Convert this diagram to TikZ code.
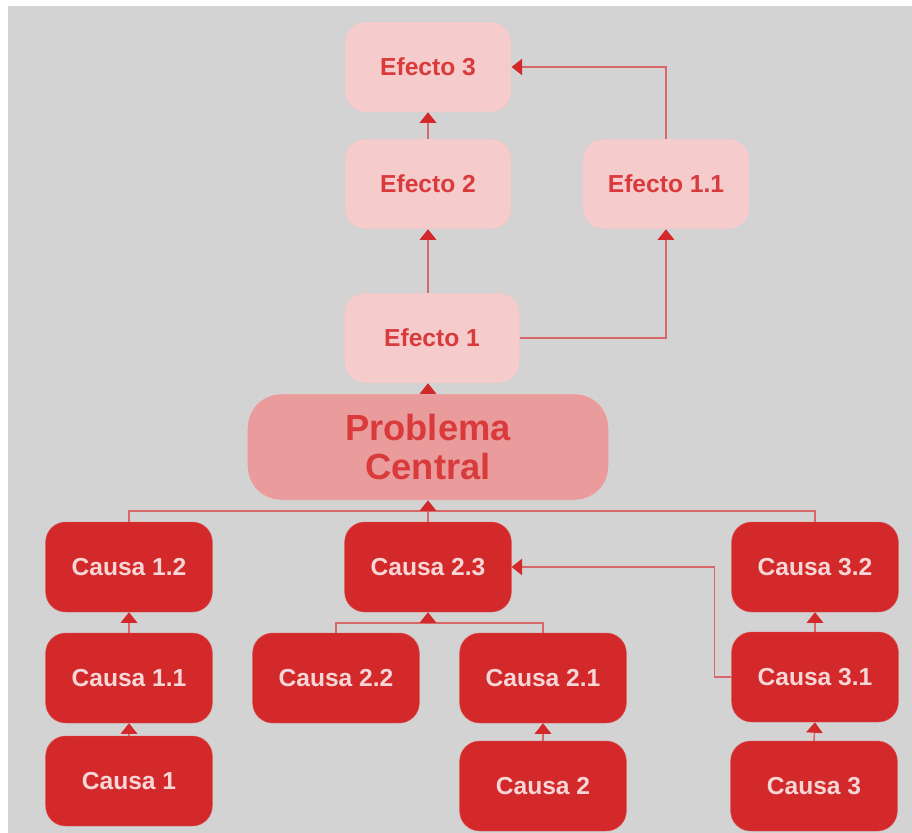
\documentclass[tikz,border=0pt]{standalone}
\usepackage{fontspec}
\setmainfont{Liberation Sans}
\usetikzlibrary{arrows.meta}
\definecolor{fondo}{HTML}{D3D3D3}
\definecolor{rosa}{HTML}{F5CBCB}
\definecolor{rosafuerte}{HTML}{EA9B9B}
\definecolor{rojo}{HTML}{D3292A}
\definecolor{rojotexto}{HTML}{D93A3C}
\definecolor{linea}{HTML}{D8676A}
\definecolor{letra}{HTML}{F6D6D6}
\begin{document}
\begin{tikzpicture}[x=0.03cm,y=-0.03cm,
	efecto/.style={rectangle,rounded corners=0.6cm,fill=rosa,draw=gray!35,line width=0.4pt,text=rojotexto,font=\bfseries\fontsize{21}{25}\selectfont,minimum width=5cm,minimum height=2.7cm},
	causa/.style={rectangle,rounded corners=0.6cm,fill=rojo,draw=rojo!80!white,line width=0.4pt,text=letra,font=\bfseries\fontsize{21}{25}\selectfont,minimum width=5cm,minimum height=2.7cm},
	central/.style={rectangle,rounded corners=1cm,fill=rosafuerte,draw=gray!30,line width=0.4pt,text=rojotexto,align=center,font=\bfseries\fontsize{31}{34}\selectfont,minimum width=10.83cm,minimum height=3.18cm},
	flecha/.style={draw=linea,line width=1.3pt,-{Triangle[width=14pt,length=9pt,color=rojo]}},
	enlace/.style={draw=linea,line width=1.3pt}]
	\useasboundingbox (0,0) rectangle (912,833);
	\fill[fondo] (8,6) rectangle (912,833);
	% efectos
	\node[efecto] (ef3) at (428,67) {Efecto 3};
	\node[efecto] (ef2) at (428,184) {Efecto 2};
	\node[efecto] (ef11) at (666,184) {Efecto 1.1};
	\node[efecto,minimum width=5.25cm] (ef1) at (432,338) {Efecto 1};
	\node[central] (pc) at (428,447) {Problema\\Central};
	% causas
	\node[causa] (c12) at (129,567) {Causa 1.2};
	\node[causa] (c11) at (129,678) {Causa 1.1};
	\node[causa] (c1) at (129,781) {Causa 1};
	\node[causa] (c23) at (428,567) {Causa 2.3};
	\node[causa] (c22) at (336,678) {Causa 2.2};
	\node[causa] (c21) at (543,678) {Causa 2.1};
	\node[causa] (c2) at (543,786) {Causa 2};
	\node[causa] (c32) at (815,567) {Causa 3.2};
	\node[causa] (c31) at (815,677) {Causa 3.1};
	\node[causa] (c3) at (814,786) {Causa 3};
	\coordinate (bus) at (428,511);
	\coordinate (bus2) at (428,623);
	% conectores
	\draw[flecha] (ef2.north) -- (ef3.south);
	\draw[flecha] (ef1.north -| ef2) -- (ef2.south);
	\draw[flecha] (ef1.east) -| (ef11.south);
	\draw[flecha] (ef11.north) |- (ef3.east);
	\draw[flecha] (pc.north) -- (pc.north |- ef1.south);
	\draw[enlace] (c12.north) |- (bus) -| (c32.north);
	\draw[flecha] (c23.north) -- (pc.south);
	\draw[flecha] (c11.north) -- (c12.south);
	\draw[flecha] (c1.north) -- (c11.south);
	\draw[enlace] (c22.north) |- (bus2) -| (c21.north);
	\draw[flecha] (bus2) -- (c23.south);
	\draw[flecha] (c2.north) -- (c21.south);
	\draw[flecha] (c3.north) -- (c31.south);
	\draw[flecha] (c31.north) -- (c32.south);
	\draw[flecha] (c31.west) -- ++(-17,0) |- (c23.east);
\end{tikzpicture}
\end{document}
